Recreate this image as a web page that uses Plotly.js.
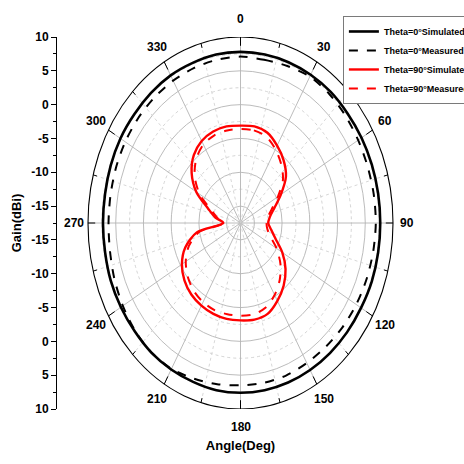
<!DOCTYPE html>
<html><head><meta charset="utf-8">
<script src="https://cdn.plot.ly/plotly-3.0.1.min.js"></script>
<style>html,body{margin:0;padding:0;background:#fff}#chart{width:464px;height:464px}</style>
</head><body><div id="chart"></div>
<script>
// ---- data (gain in dBi vs angle in degrees, clockwise from top) ----
const angleDeg = [0,10,20,30,40,50,60,70,80,90,100,110,120,130,140,150,160,170,180,190,200,210,220,230,240,250,260,270,280,290,300,310,320,330,340,350,360];
const theta0Simulated = [7.8,7.8,7.8,7.8,7.8,7.7,7.7,7.7,7.7,7.7,7.7,7.7,7.6,7.6,7.6,7.6,7.6,7.6,7.6,7.6,7.5,7.5,7.5,7.4,7.4,7.4,7.3,7.3,7.3,7.4,7.5,7.5,7.6,7.7,7.7,7.8,7.8];
const theta0Measured = [7.1,7.0,7.2,7.5,7.4,7.2,7.0,6.9,6.9,6.9,6.8,6.7,6.6,6.5,6.4,6.4,6.5,6.5,6.5,6.7,7.0,7.4,7.5,7.3,7.0,6.7,6.4,6.3,6.3,6.4,6.5,6.6,6.7,6.8,6.9,7.0,7.1];
const theta90Simulated = [-3.1,-3.0,-3.3,-4.3,-5.4,-6.8,-9.1,-11.0,-12.1,-12.5,-11.9,-10.8,-8.8,-6.9,-5.4,-4.2,-3.2,-3.0,-3.1,-3.1,-3.2,-3.4,-3.7,-4.3,-5.3,-6.9,-9.5,-14.4,-12.9,-11.3,-8.3,-6.0,-4.4,-3.5,-3.1,-3.0,-3.1];
const theta90Measured = [-3.6,-3.6,-3.9,-4.9,-6.1,-7.5,-9.7,-11.5,-12.5,-12.8,-12.6,-11.8,-10.0,-8.1,-6.5,-5.2,-4.2,-3.8,-3.8,-3.8,-3.8,-4.0,-4.4,-5.1,-6.1,-7.6,-10.0,-14.4,-13.3,-11.9,-9.0,-6.7,-5.1,-4.1,-3.7,-3.6,-3.6];
const seriesNames = ['Theta=0°Simulated','Theta=0°Measured','Theta=90°Simulated','Theta=90°Measured'];
const gainTickLabels = [10,5,0,-5,-10,-15];
const angleTickLabels = [0,30,60,90,120,150,180,210,240,270,300,330];
const solidRings = [-15,-10,-5,0,5];
const dottedRings = [-12.5,-7.5,-2.5,2.5,7.5];
const radialMin = -17.5, radialMax = 10;

// ---- helpers ----
const R = radialMax - radialMin;
const XR = 33.09;
const rad = d => d*Math.PI/180;
function polarToXY(angles, gains){
  return {
    x: angles.map((a,i)=>(gains[i]-radialMin)*Math.sin(rad(a))),
    y: angles.map((a,i)=>(gains[i]-radialMin)*Math.cos(rad(a)))
  };
}
const FONT = 'Liberation Sans, Arial, sans-serif';

const seriesData = [theta0Simulated, theta0Measured, theta90Simulated, theta90Measured];
const seriesColors = ['#000000','#000000','#ff0000','#ff0000'];
const seriesDash = ['solid','dash','solid','dash'];
const seriesWidth = [2.6,2,2.4,2];
const traces = seriesData.map((g,i)=>{
  const p = polarToXY(angleDeg, g);
  return {type:'scatter', mode:'lines', x:p.x, y:p.y, name:seriesNames[i],
    line:{color:seriesColors[i], dash:seriesDash[i], width:seriesWidth[i], shape:'spline', smoothing:0.8},
    hoverinfo:'skip'};
});

// ---- polar grid as shapes ----
const shapes = [];
function ring(g, color, width, dash){
  const r = g - radialMin;
  shapes.push({type:'circle', xref:'x', yref:'y', x0:-r, x1:r, y0:-r, y1:r,
    line:{color, width, dash}, layer:'below'});
}
solidRings.forEach(g=>ring(g,'#b4b4b4',0.9,'solid'));
dottedRings.forEach(g=>ring(g,'#cfcfcf',0.9,'dot'));
for(let a=0;a<360;a+=15){
  const major = a%30===0;
  shapes.push({type:'line', xref:'x', yref:'y', x0:0, y0:0,
    x1:R*Math.sin(rad(a)), y1:R*Math.cos(rad(a)),
    line:{color: major?'#b4b4b4':'#d2d2d2', width:0.9, dash: major?'solid':'dot'}, layer:'below'});
  const len = major?1.3:0.7;
  shapes.push({type:'line', xref:'x', yref:'y',
    x0:R*Math.sin(rad(a)), y0:R*Math.cos(rad(a)),
    x1:(R-len)*Math.sin(rad(a)), y1:(R-len)*Math.cos(rad(a)),
    line:{color:'#000', width:1}, layer:'below'});
}
ring(radialMax,'#000000',1.1,'solid');

// ---- angle labels (paper coords so they may sit outside the axis ranges) ----
const labelR = R + 2.6;
const annotations = angleTickLabels.map(a=>({
  xref:'paper', yref:'paper',
  x:(labelR*Math.sin(rad(a)) + XR)/(2*XR),
  y:(labelR*Math.cos(rad(a)) + R)/(2*R),
  text:String(a), showarrow:false, xanchor:'center', yanchor:'middle',
  font:{family:FONT, size:12, color:'#000', weight:'bold'}
}));

// ---- radial axis ticks on the left axis ----
const tickvals = [], ticktext = [];
gainTickLabels.forEach(g=>{ tickvals.push(g-radialMin); ticktext.push(String(g)); });
gainTickLabels.slice().reverse().forEach(g=>{ tickvals.push(-(g-radialMin)); ticktext.push(String(g)); });

const layout = {
  width:464, height:464,
  margin:{l:57, r:40, t:37, b:55, autoexpand:false},
  paper_bgcolor:'#ffffff', plot_bgcolor:'rgba(0,0,0,0)',
  showlegend:true,
  legend:{x:0.779, xanchor:'left', y:1.0565, yanchor:'top', bgcolor:'#ffffff',
    bordercolor:'#7a7a7a', borderwidth:1, tracegroupgap:0, itemwidth:30,
    font:{family:FONT, size:9, color:'#000', weight:'bold'}},
  xaxis:{range:[-XR,XR], showgrid:false, zeroline:false, showline:false, automargin:false,
    showticklabels:false, ticks:'', fixedrange:true,
    title:{text:'Angle(Deg)', standoff:31, font:{family:FONT, size:13, color:'#000', weight:'bold'}}},
  yaxis:{range:[-R,R], showgrid:false, zeroline:false, showline:true, linecolor:'#000', linewidth:1, automargin:false,
    tickmode:'array', tickvals, ticktext, ticks:'outside', ticklen:5, tickcolor:'#000', tickwidth:1,
    minor:{tick0:0, dtick:5, ticks:'outside', ticklen:3, tickcolor:'#000', tickwidth:1},
    tickfont:{family:FONT, size:12, color:'#000', weight:'bold'},
    title:{text:'Gain(dBi)', standoff:6, font:{family:FONT, size:13, color:'#000', weight:'bold'}}},
  shapes, annotations
};
Plotly.newPlot('chart', traces, layout, {staticPlot:true, displayModeBar:false});
</script></body></html>
